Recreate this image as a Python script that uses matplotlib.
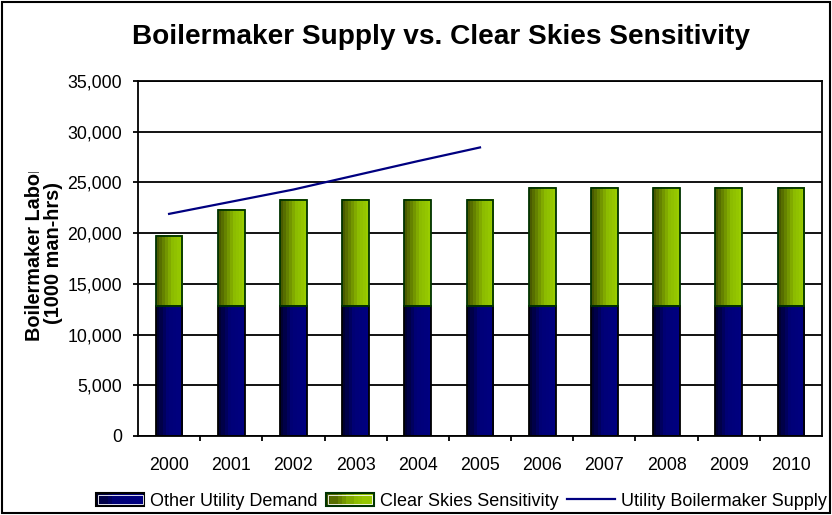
import matplotlib
matplotlib.use('Agg')
import matplotlib.pyplot as plt
import numpy as np
from matplotlib.colors import LinearSegmentedColormap
from matplotlib.patches import Rectangle
from matplotlib.lines import Line2D
from matplotlib.legend_handler import HandlerBase
from matplotlib.transforms import Bbox, TransformedBbox

plt.rcParams['font.family'] = ['Liberation Sans', 'DejaVu Sans']

# data
years = ['2000', '2001', '2002', '2003', '2004', '2005',
         '2006', '2007', '2008', '2009', '2010']
other_demand = [12800, 12800, 12800, 12800, 12800, 12800,
                12800, 12800, 12800, 12800, 12800]
clear_skies = [6950, 9500, 10500, 10500, 10500, 10500,
               11700, 11700, 11700, 11700, 11700]
supply_years = ['2000', '2001', '2002', '2003', '2004', '2005']
supply = [21900, 23100, 24300, 25700, 27100, 28450]

blue_cm = LinearSegmentedColormap.from_list(
    'blue', [(0, '#000033'), (0.45, '#000078'), (1, '#000080')], N=8)
green_cm = LinearSegmentedColormap.from_list(
    'green', [(0, '#4a5a00'), (0.6, '#8cbb00'), (1, '#99cc00')], N=9)


class GradHandler(HandlerBase):
    def __init__(self, cmap, edge):
        super().__init__()
        self.cmap = cmap
        self.edge = edge

    def create_artists(self, legend, orig_handle, xdescent, ydescent,
                       width, height, fontsize, trans):
        arts = []
        n = 12
        for i in range(n):
            arts.append(Rectangle((-xdescent + i * width / n, -ydescent),
                                  width / n + 0.3, height,
                                  facecolor=self.cmap((i + 0.5) / n),
                                  edgecolor='none', transform=trans))
        arts.append(Rectangle((-xdescent, -ydescent), width, height,
                              facecolor='none', edgecolor=self.edge,
                              lw=1.5, transform=trans))
        arts.append(Rectangle((-xdescent + 1.2, -ydescent + 1.2),
                              width - 2.4, height - 2.4,
                              facecolor='none', edgecolor='white',
                              lw=0.6, transform=trans))
        return arts


fig = plt.figure(figsize=(8.32, 5.15), dpi=100)
ax = fig.add_axes([138 / 832, 1 - 436 / 515, 684 / 832, 355 / 515])

x = np.arange(len(years))
w = 0.43

b1 = ax.bar(x, other_demand, w, color='none', edgecolor='black',
            lw=1.3, zorder=4)
b2 = ax.bar(x, clear_skies, w, bottom=other_demand, color='none',
            edgecolor='#003300', lw=1.3, zorder=4)

grad = np.linspace(0, 1, 64).reshape(1, -1)
for bars, cm in ((b1, blue_cm), (b2, green_cm)):
    for p in bars:
        bx, by = p.get_x(), p.get_y()
        ax.imshow(grad, cmap=cm, aspect='auto', zorder=3,
                  extent=[bx, bx + p.get_width(), by, by + p.get_height()],
                  interpolation='nearest')

xs = [years.index(y) for y in supply_years]
ax.plot(xs, supply, color='#000080', lw=1.6, zorder=5)

ax.set_xlim(-0.5, len(years) - 0.5)
ax.set_ylim(0, 35000)
ax.set_yticks(np.arange(0, 35001, 5000))
ax.set_yticklabels([f'{v:,}' for v in range(0, 35001, 5000)])
ax.set_xticks(x)
ax.set_xticklabels(years)
ax.set_xticks(np.arange(0.5, len(years) - 1, 1), minor=True)
ax.tick_params(axis='x', which='major', length=0, pad=15, labelsize=12.8)
ax.tick_params(axis='x', which='minor', length=3.5, width=1.3, direction='out')
ax.tick_params(axis='y', length=3.5, width=1.3, direction='out', pad=8,
               labelsize=12.8)
ax.grid(axis='y', color='black', lw=1.3, zorder=1)
ax.set_axisbelow(True)
for s in ax.spines.values():
    s.set_linewidth(1.3)
    s.set_zorder(6)

fig.text(441 / 832, 1 - 37 / 515, 'Boilermaker Supply vs. Clear Skies Sensitivity',
         ha='center', va='center', fontsize=20.2, fontweight='bold')

clip = TransformedBbox(Bbox([[0, 0], [0.12, 1 - 172 / 515]]), fig.transFigure)
yl = fig.text(44 / 832, 1 - 253 / 515, 'Boilermaker Labor\n(1000 man-hrs)',
              rotation=90, ha='center', va='center', fontsize=14.3,
              fontweight='bold', linespacing=1.0, multialignment='center')
yl.set_clip_box(clip)
yl.set_clip_on(True)

h_blue = Rectangle((0, 0), 1, 1)
h_green = Rectangle((0, 0), 1, 1)
h_line = Line2D([], [], color='#000080', lw=1.6)
fig.legend([h_blue, h_green, h_line],
           ['Other Utility Demand', 'Clear Skies Sensitivity',
            'Utility Boilermaker Supply'],
           handler_map={h_blue: GradHandler(blue_cm, 'black'),
                        h_green: GradHandler(green_cm, '#003300')},
           loc='center', bbox_to_anchor=(461.5 / 832, 1 - 501 / 515), ncol=3,
           frameon=False, fontsize=13, handlelength=2.66, handletextpad=0.33,
           columnspacing=0.45, borderpad=0, borderaxespad=0)

fig.patches.append(Rectangle((2 / 832, 2 / 515), 828 / 832, 511 / 515,
                             transform=fig.transFigure, fill=False,
                             edgecolor='black', lw=1.5))

fig.savefig('out.png', dpi=100)
